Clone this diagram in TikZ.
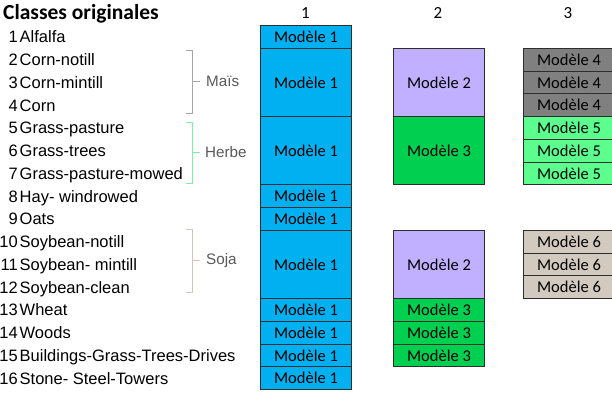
\documentclass[tikz,border=0pt]{standalone}
\usepackage{fontspec}
\setmainfont{Liberation Sans}
\newfontfamily\calibri{Carlito}
\usetikzlibrary{positioning}

\definecolor{modblue}{HTML}{00B0F0}
\definecolor{modlilac}{HTML}{C0B0FF}
\definecolor{modgreen}{HTML}{00CF50}
\definecolor{modgray}{HTML}{808080}
\definecolor{modlight}{HTML}{5CFF8E}
\definecolor{modtan}{HTML}{D2C9BF}
\definecolor{boxline}{HTML}{2E2E2E}
\definecolor{maisgray}{HTML}{A6A6A6}
\definecolor{herbegreen}{HTML}{7CF0A4}
\definecolor{sojatan}{HTML}{CFC6BC}
\definecolor{grouptext}{HTML}{595959}

\begin{document}
\begin{tikzpicture}[x = 1pt, y = -1pt,
		modbox/.style = {draw = boxline, line width = 1pt, anchor = north west, minimum width = 91pt, inner sep = 0pt, font = \calibri\fontsize{16.5}{17}\selectfont},
		rowtext/.style = {inner sep = 0pt, font = \fontsize{16.5}{17}\selectfont},
		headtext/.style = {inner sep = 0pt, font = \calibri\fontsize{17}{18}\selectfont},
		groupname/.style = {inner sep = 0pt, text = grouptext, font = \fontsize{15.2}{16}\selectfont},
		brace/.style = {line width = 0.9pt}]
				\useasboundingbox (0, 0) rectangle (612, 394);
				% titre et en-tetes des colonnes
				\node[anchor = west, inner sep = 0pt, font = \calibri\bfseries\fontsize{21.5}{22}\selectfont] (title) at (3, 13.5) {Classes originales};
				\node[headtext] (head1) at (305.5, 13) {1};
				\node[headtext] (head2) at (438, 13) {2};
				\node[headtext] (head3) at (568, 13) {3};
				% classes originales
				\foreach \txt [count = \i] in {Alfalfa, Corn-notill, Corn-mintill, Corn, Grass-pasture, Grass-trees, Grass-pasture-mowed, Hay- windrowed, Oats, Soybean-notill, Soybean- mintill, Soybean-clean, Wheat, Woods, Buildings-Grass-Trees-Drives, Stone- Steel-Towers} {
					\node[rowtext, anchor = base east] (num\i) at (18, {25 + 22.75 * (\i - 0.5) + 6.5}) {\i};
					\node[rowtext, anchor = base west] (cls\i) at (19.5, {25 + 22.75 * (\i - 0.5) + 6.5}) {\txt};
				}
				% accolades des groupes
				\draw[brace, maisgray] (186, 50) -- (192.5, 50) -- (192.5, 113) -- (186, 113);
				\draw[brace, maisgray] (192.5, 81.5) -- (200, 81.5) coordinate (maistick);
				\node[groupname, right = 6pt of maistick] (mais) {Maïs};
				\draw[brace, herbegreen] (186, 122) -- (192.5, 122) -- (192.5, 183) -- (186, 183);
				\draw[brace, herbegreen] (192.5, 152.5) -- (200, 152.5) coordinate (herbetick);
				\node[groupname, right = 5pt of herbetick] (herbe) {Herbe};
				\draw[brace, sojatan] (186, 229) -- (192.5, 229) -- (192.5, 292) -- (186, 292);
				\draw[brace, sojatan] (192.5, 260.5) -- (200, 260.5) coordinate (sojatick);
				\node[groupname, right = 6pt of sojatick] (soja) {Soja};
				% modeles : nom/x/premiere ligne/nombre de lignes/couleur/numero
				\foreach \nm/\x/\r/\h/\c/\t in {
						a1/260/1/1/modblue/1, a2/260/2/3/modblue/1, a3/260/5/3/modblue/1, a4/260/8/1/modblue/1,
						a5/260/9/1/modblue/1, a6/260/10/3/modblue/1, a7/260/13/1/modblue/1, a8/260/14/1/modblue/1,
						a9/260/15/1/modblue/1, a10/260/16/1/modblue/1,
						b1/393/2/3/modlilac/2, b2/393/5/3/modgreen/3, b3/393/10/3/modlilac/2,
						b4/393/13/1/modgreen/3, b5/393/14/1/modgreen/3, b6/393/15/1/modgreen/3,
						c1/523/2/1/modgray/4, c2/523/3/1/modgray/4, c3/523/4/1/modgray/4,
						c4/523/5/1/modlight/5, c5/523/6/1/modlight/5, c6/523/7/1/modlight/5,
						c7/523/10/1/modtan/6, c8/523/11/1/modtan/6, c9/523/12/1/modtan/6} {
					\node[modbox, fill = \c, minimum height = {\h * 22.75pt}] (\nm) at (\x, {25 + 22.75 * (\r - 1)}) {Modèle \t};
				}
			\end{tikzpicture}
\end{document}
